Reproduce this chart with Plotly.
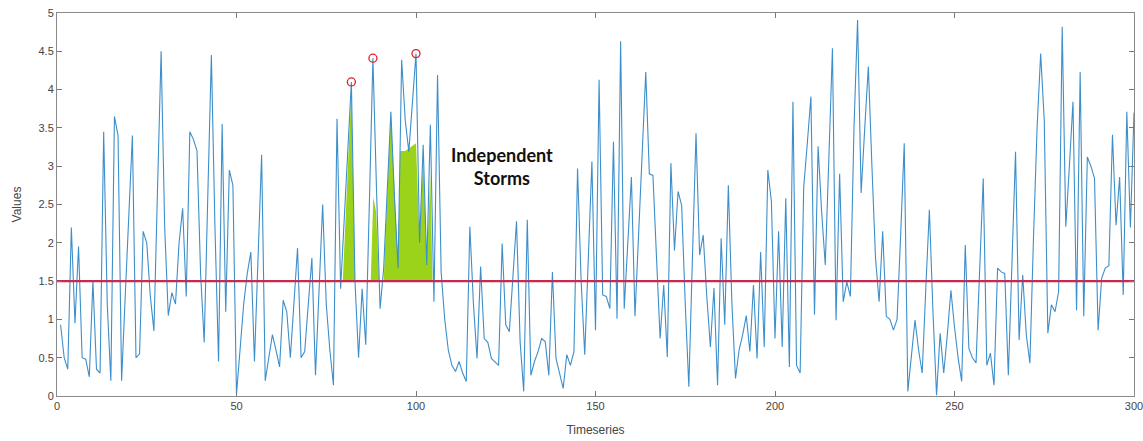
import plotly.graph_objects as go

# Time series samples, t = 1..300
values = [
    0.93, 0.5, 0.35, 2.2, 0.95, 1.95, 0.5, 0.48, 0.25, 1.5,
    0.35, 0.3, 3.45, 1.2, 0.2, 3.65, 3.4, 0.2, 1.3, 2.4,
    3.4, 0.5, 0.55, 2.15, 2.0, 1.3, 0.85, 2.7, 4.5, 2.2,
    1.05, 1.35, 1.2, 2.0, 2.45, 1.3, 3.45, 3.35, 3.2, 1.6,
    0.7, 2.6, 4.45, 2.2, 0.45, 3.55, 1.1, 2.95, 2.75, 0.02,
    0.6, 1.2, 1.6, 1.88, 0.45, 1.8, 3.15, 0.2, 0.5, 0.8,
    0.6, 0.38, 1.25, 1.1, 0.5, 1.2, 1.93, 0.5, 0.58, 1.2,
    1.8, 0.27, 1.4, 2.5, 1.2, 0.6, 0.14, 3.62, 1.4, 2.3,
    3.2, 4.1, 1.5, 0.5, 1.4, 0.67, 2.5, 4.41, 2.7, 1.14,
    1.67, 2.7, 3.71, 2.6, 1.67, 4.39, 3.6, 3.19, 3.8, 4.47,
    2.0, 3.28, 1.71, 3.54, 1.23, 4.19, 1.62, 1.0, 0.6, 0.4,
    0.32, 0.45, 0.3, 0.19, 2.21, 1.2, 0.49, 1.69, 0.75, 0.7,
    0.49, 0.45, 0.4, 1.99, 0.93, 0.84, 1.5, 2.28, 0.71, 0.06,
    2.3, 0.27, 0.45, 0.58, 0.75, 0.71, 0.27, 1.62, 0.49, 0.3,
    0.1, 0.54, 0.4, 0.58, 2.97, 1.5, 0.54, 1.8, 3.06, 0.86,
    4.13, 1.32, 1.3, 1.14, 3.32, 1.01, 4.63, 1.14, 2.0, 2.86,
    1.04, 2.1, 3.2, 4.23, 2.9, 2.88, 1.8, 0.75, 1.45, 0.51,
    3.04, 1.9, 2.67, 2.49, 1.2, 0.12, 1.8, 3.43, 1.84, 2.1,
    1.3, 0.64, 1.41, 0.14, 2.06, 0.93, 2.75, 1.2, 0.23, 0.6,
    0.8, 1.05, 0.58, 1.45, 0.49, 1.88, 0.64, 2.95, 2.54, 0.75,
    2.15, 0.64, 2.58, 0.38, 3.84, 0.4, 0.3, 2.73, 3.3, 3.91,
    1.06, 3.26, 2.4, 1.71, 3.1, 4.54, 0.99, 2.9, 1.23, 1.49,
    1.3, 3.5, 4.91, 2.65, 3.5, 4.3, 3.0, 1.8, 1.23, 2.15,
    1.04, 1.0, 0.86, 1.0, 2.1, 3.3, 0.06, 0.5, 0.99, 0.6,
    0.3, 1.4, 2.43, 1.1, 0.01, 0.82, 0.3, 0.8, 1.38, 0.9,
    0.5, 0.19, 1.97, 0.62, 0.5, 0.43, 1.6, 2.84, 0.4, 0.56,
    0.14, 1.67, 1.62, 1.6, 0.27, 1.7, 3.19, 0.73, 1.58, 0.8,
    0.43, 2.06, 3.5, 4.47, 3.6, 0.82, 1.19, 1.1, 1.36, 4.82,
    2.21, 3.0, 3.84, 1.12, 4.23, 1.04, 3.12, 3.0, 2.84, 0.86,
    1.54, 1.67, 1.7, 3.41, 2.23, 2.86, 1.32, 3.71, 2.2, 3.7,
]
time = list(range(1, len(values) + 1))

threshold = 1.5

# Shaded storm areas above the threshold (outline of each patch)
storm1_t = [79.6, 82, 83]
storm1_top = [1.5, 4.0, 1.5]
storm2_t = [87.4, 88.1, 88.9, 89.7]
storm2_top = [1.5, 2.6, 2.4, 1.5]
storm3_t = [91.0, 93.0, 94.5, 95.0, 95.6, 97.0, 100.0, 101.0, 102.0, 103.0, 104.0, 104.6]
storm3_top = [1.5, 3.71, 2.2, 1.8, 3.2, 3.2, 3.3, 2.0, 3.1, 1.75, 2.9, 1.5]

# Storm peaks
peak_t = [82, 88, 100]
peak_v = [4.1, 4.41, 4.47]

green = "#9BD21A"
fig = go.Figure()

for st, sv in [(storm1_t, storm1_top), (storm2_t, storm2_top), (storm3_t, storm3_top)]:
    fig.add_trace(go.Scatter(
        x=st + st[::-1], y=sv + [threshold] * len(st),
        fill="toself", fillcolor=green, line=dict(width=0),
        mode="lines", hoverinfo="skip", showlegend=False,
    ))

fig.add_trace(go.Scatter(
    x=time, y=values, mode="lines",
    line=dict(color="#3D8FCB", width=1.1), showlegend=False,
))

fig.add_trace(go.Scatter(
    x=[0, 300], y=[threshold, threshold], mode="lines",
    line=dict(color="#C62A4E", width=2.4), showlegend=False,
))

fig.add_trace(go.Scatter(
    x=peak_t, y=peak_v, mode="markers",
    marker=dict(symbol="circle-open", size=8, color="#E0202A", line=dict(width=1.3)),
    showlegend=False,
))

fig.add_annotation(
    x=124, y=3.0, text="<b>Independent<br>Storms</b>", showarrow=False,
    font=dict(family="Lato, Open Sans, sans-serif", size=18, color="#111111"),
    align="center",
)

label_font = dict(family="Liberation Sans, Arial, sans-serif", size=11, color="#444444")
axis_common = dict(
    showline=True, linecolor="#8a8a8a", linewidth=1, mirror="ticks",
    ticks="inside", ticklen=5, tickcolor="#777777",
    showgrid=False, zeroline=False, automargin=False,
    tickfont=label_font, ticklabeloverflow="allow",
)

fig.update_xaxes(range=[0, 300], tickvals=[0, 50, 100, 150, 200, 250, 300],
                 title=dict(text="Timeseries", standoff=14, font=dict(label_font, size=12)),
                 **axis_common)
fig.update_yaxes(range=[0, 5], tickvals=[0, 0.5, 1, 1.5, 2, 2.5, 3, 3.5, 4, 4.5, 5],
                 ticktext=["0", "0.5", "1", "1.5", "2", "2.5", "3", "3.5", "4", "4.5", "5"],
                 title=dict(text="Values", standoff=14, font=dict(label_font, size=12)),
                 **axis_common)

fig.update_layout(
    width=1143, height=441,
    margin=dict(l=57, r=9, t=13, b=45),
    paper_bgcolor="white", plot_bgcolor="white",
)

fig.write_html("out.html")
